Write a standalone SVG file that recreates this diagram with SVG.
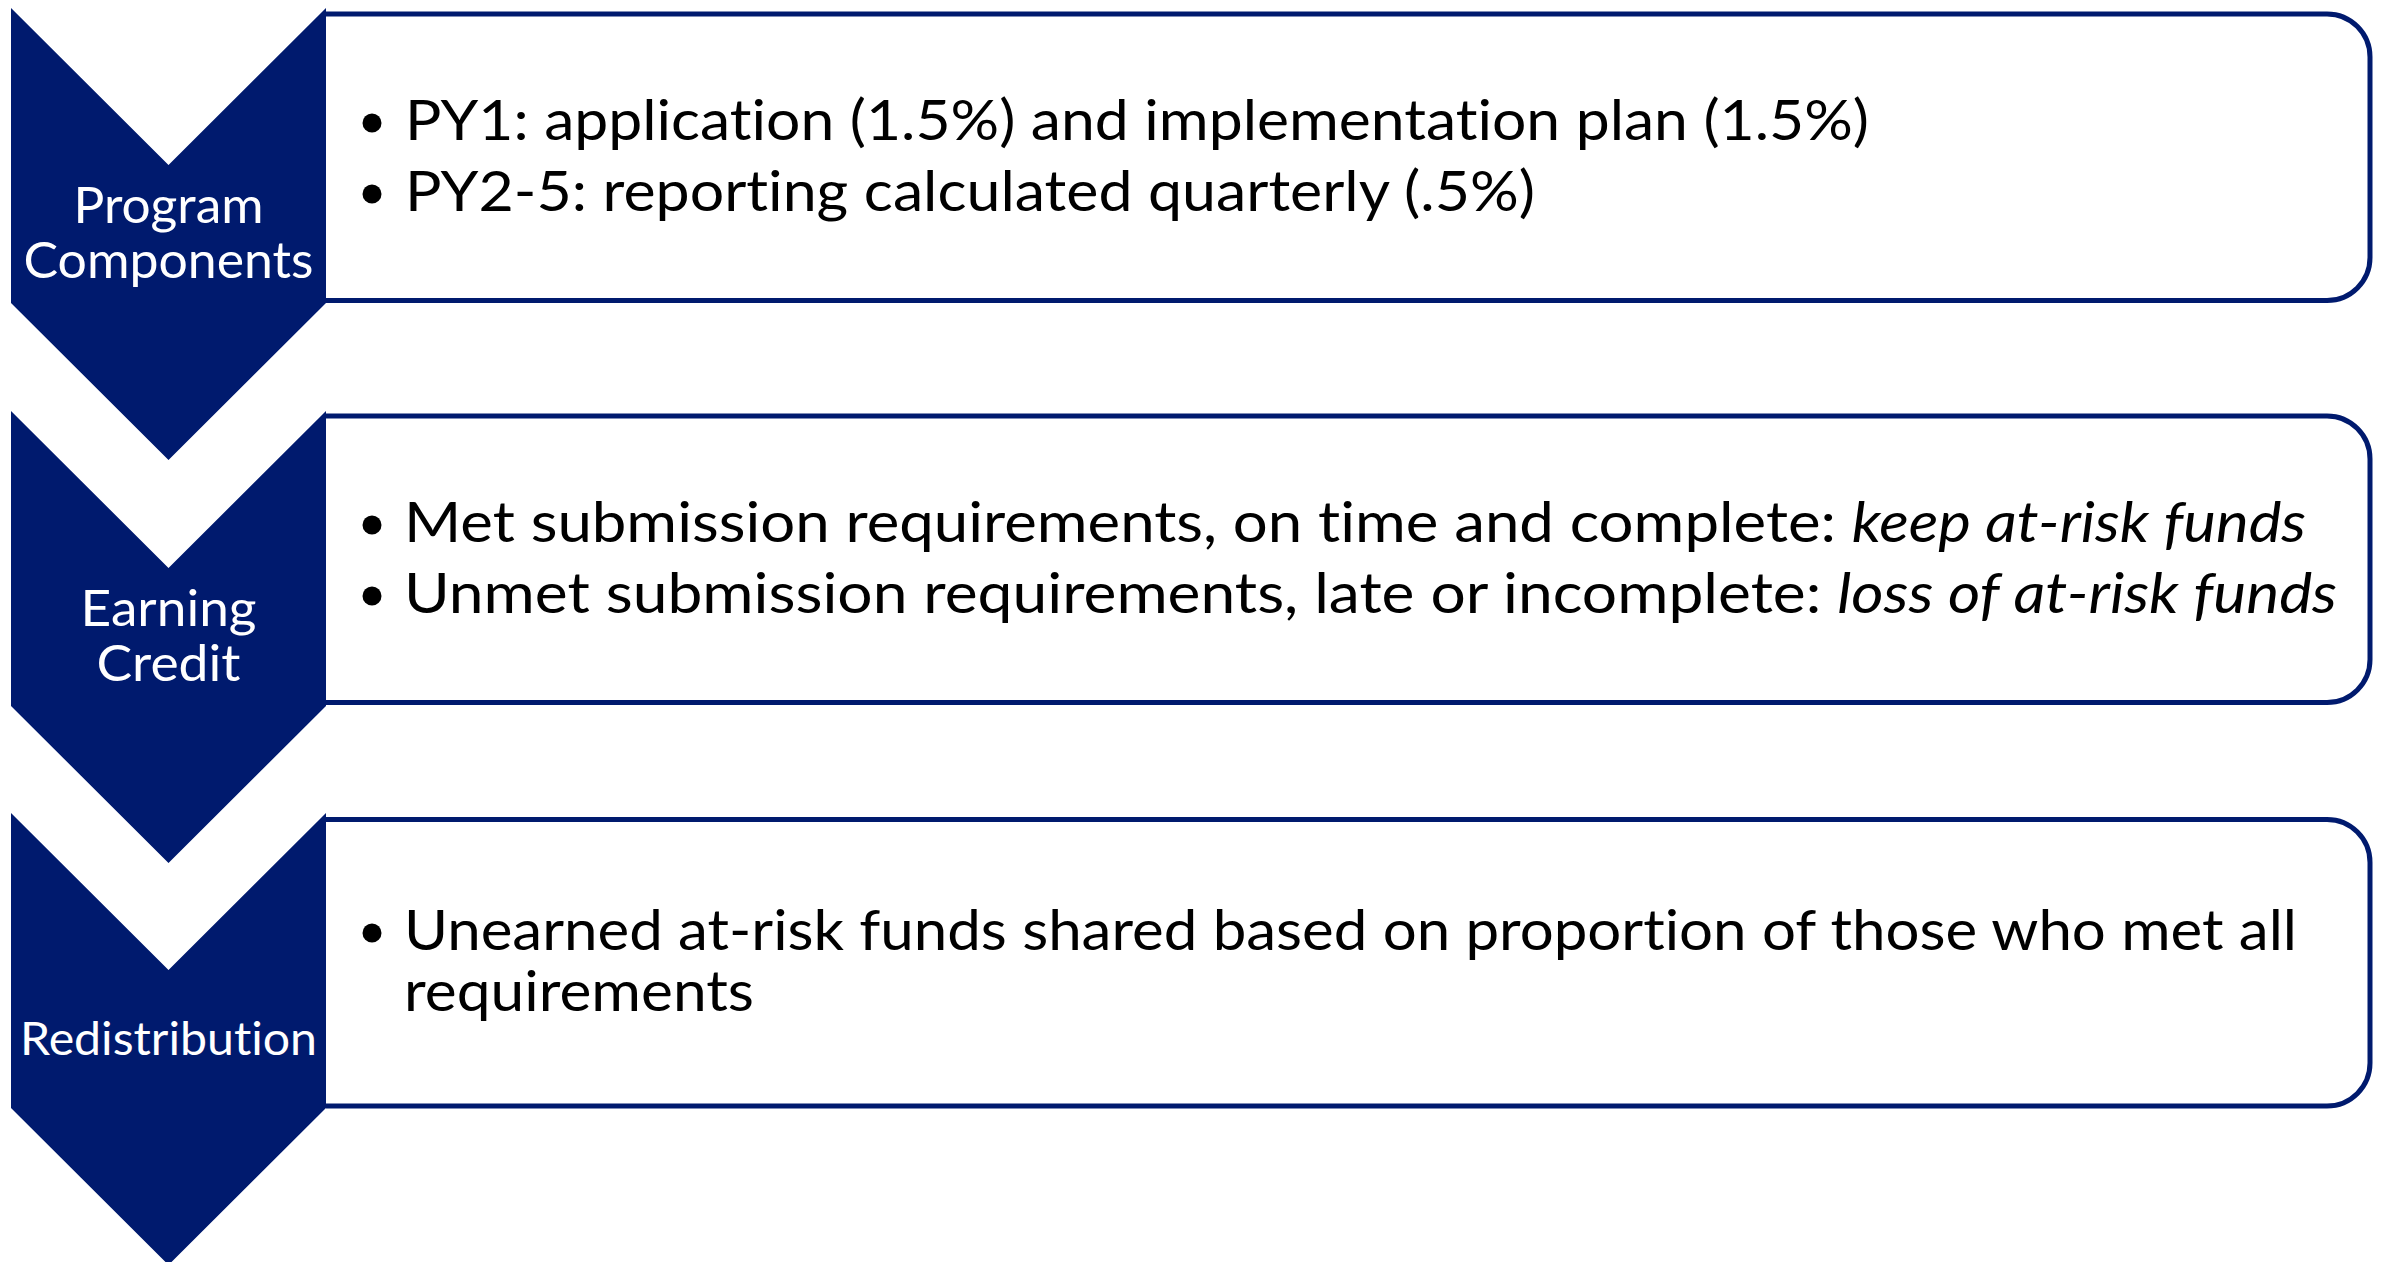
<svg xmlns="http://www.w3.org/2000/svg" width="2383" height="1262" viewBox="0 0 2383 1262">
  <style>
    .chev { fill: #001A6E; }
    .panel-fill { fill: #FFFFFF; }
    .panel-edge { fill: none; stroke: #001A6E; stroke-width: 5; }
    text { font-variant-ligatures: none; font-feature-settings: "liga" 0, "clig" 0; }
    .label { font-family: Lato, "Open Sans", "DejaVu Sans", sans-serif; fill: #FFFFFF; text-anchor: middle; }
    .body { font-family: Lato, "Open Sans", "DejaVu Sans", sans-serif; font-size: 57px; fill: #000000; }
    .dot { fill: #000000; }
    .em { font-style: italic; }
  </style>
  <defs>
    <!-- downward chevron, 315 wide, notch 157 deep -->
    <path id="chevron" d="M 11 0 L 168.5 157 L 326 0 L 326 295 L 168.5 452 L 11 295 Z"/>
    <!-- content panel: open on the left, rounded on the right -->
    <path id="panelFill" d="M 326 0 H 2327 A 43 43 0 0 1 2370 43 V 243.5 A 43 43 0 0 1 2327 286.5 H 326 Z"/>
    <path id="panelEdge" d="M 326 0 H 2327 A 43 43 0 0 1 2370 43 V 243.5 A 43 43 0 0 1 2327 286.5 H 326"/>
  </defs>

  <rect width="2383" height="1262" fill="#FFFFFF"/>

  <!-- step 1 -->
  <g id="step-program-components">
    <g transform="translate(0,14)">
      <use href="#panelFill" class="panel-fill"/>
      <use href="#panelEdge" class="panel-edge"/>
    </g>
    <use href="#chevron" class="chev" transform="translate(0,8)"/>
    <text class="label" x="168.5" y="223" font-size="50" textLength="190" lengthAdjust="spacingAndGlyphs">Program</text>
    <text class="label" x="168.5" y="278" font-size="50" textLength="290" lengthAdjust="spacingAndGlyphs">Components</text>
    <circle class="dot" cx="372" cy="123" r="9.5"/>
    <text class="body" x="405" y="140" textLength="1464" lengthAdjust="spacingAndGlyphs">PY1: application (1.5%) and implementation plan (1.5%)</text>
    <circle class="dot" cx="372" cy="194" r="9.5"/>
    <text class="body" x="405" y="211" textLength="1130" lengthAdjust="spacingAndGlyphs">PY2-5: reporting calculated quarterly (.5%)</text>
  </g>

  <!-- step 2 -->
  <g id="step-earning-credit">
    <g transform="translate(0,416)">
      <use href="#panelFill" class="panel-fill"/>
      <use href="#panelEdge" class="panel-edge"/>
    </g>
    <use href="#chevron" class="chev" transform="translate(0,411)"/>
    <text class="label" x="168.5" y="626" font-size="50" textLength="176" lengthAdjust="spacingAndGlyphs">Earning</text>
    <text class="label" x="168.5" y="681" font-size="50" textLength="144" lengthAdjust="spacingAndGlyphs">Credit</text>
    <circle class="dot" cx="372" cy="525" r="9.5"/>
    <text class="body" x="404" y="542" textLength="1902" lengthAdjust="spacingAndGlyphs">Met submission requirements, on time and complete: <tspan class="em">keep at-risk funds</tspan></text>
    <circle class="dot" cx="372" cy="596" r="9.5"/>
    <text class="body" x="404" y="613" textLength="1933" lengthAdjust="spacingAndGlyphs">Unmet submission requirements, late or incomplete: <tspan class="em">loss of at-risk funds</tspan></text>
  </g>

  <!-- step 3 -->
  <g id="step-redistribution">
    <g transform="translate(0,819.5)">
      <use href="#panelFill" class="panel-fill"/>
      <use href="#panelEdge" class="panel-edge"/>
    </g>
    <use href="#chevron" class="chev" transform="translate(0,813)"/>
    <text class="label" x="168.5" y="1055" font-size="46" textLength="297" lengthAdjust="spacingAndGlyphs">Redistribution</text>
    <circle class="dot" cx="372" cy="933" r="9.5"/>
    <!-- one bullet, wrapped onto two lines -->
    <text class="body">
      <tspan x="404" y="950" textLength="1893" lengthAdjust="spacingAndGlyphs">Unearned at-risk funds shared based on proportion of those who met all</tspan>
      <tspan x="404" y="1011" textLength="350" lengthAdjust="spacingAndGlyphs">requirements</tspan>
    </text>
  </g>

  <!-- the chevrons themselves carry the flow; no separate connectors -->
  <g id="connectors"/>
</svg>
